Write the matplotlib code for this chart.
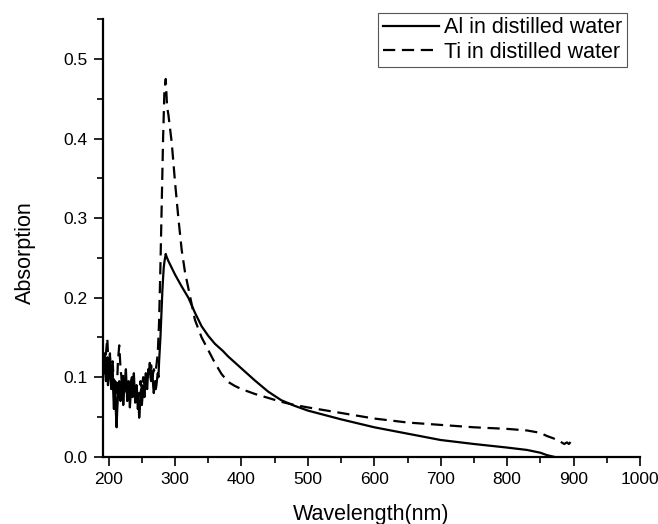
import matplotlib
matplotlib.use('Agg')
import matplotlib.pyplot as plt
from matplotlib.ticker import MultipleLocator

# ── data ────────────────────────────────────────────────────────
# Al: noisy UV part sampled every 1 nm, smooth tail after the peak
al_wl = list(range(192, 289)) + [290, 300, 310, 320, 330, 340, 350, 360, 372,
                                 380, 400, 420, 440, 460, 480, 500, 550, 600,
                                 650, 700, 750, 800, 830, 850, 860, 870]
al_abs = [0.110, 0.125, 0.130, 0.105, 0.095, 0.115, 0.125, 0.090, 0.100, 0.120,
          0.130, 0.100, 0.085, 0.110, 0.115, 0.080, 0.060, 0.095, 0.090, 0.055,
          0.037, 0.060, 0.075, 0.090, 0.095, 0.080, 0.070, 0.085, 0.100, 0.090,
          0.065, 0.080, 0.085, 0.100, 0.110, 0.090, 0.070, 0.085, 0.095, 0.080,
          0.062, 0.075, 0.090, 0.100, 0.075, 0.090, 0.105, 0.085, 0.068, 0.080,
          0.088, 0.075, 0.060, 0.070, 0.049, 0.060, 0.080, 0.085, 0.065, 0.075,
          0.090, 0.082, 0.075, 0.090, 0.100, 0.092, 0.085, 0.100, 0.110, 0.105,
          0.118, 0.100, 0.095, 0.108, 0.105, 0.090, 0.080, 0.088, 0.095, 0.085,
          0.090, 0.098, 0.105, 0.100, 0.120, 0.135, 0.150, 0.170, 0.190, 0.210,
          0.225, 0.238, 0.245, 0.250, 0.255, 0.252, 0.250,
          0.246, 0.229, 0.214, 0.200, 0.181, 0.164, 0.152, 0.142, 0.133, 0.126,
          0.111, 0.096, 0.082, 0.071, 0.064, 0.058, 0.047, 0.037, 0.029, 0.021,
          0.016, 0.0115, 0.0085, 0.005, 0.002, 0.0]

ti_wl = [192, 194, 196, 198, 200, 202, 204, 206, 208, 210, 212, 214, 216, 218,
         220, 222, 224, 226, 228, 230, 232, 234, 236, 238, 240, 242, 244, 246,
         248, 250, 252, 254, 256, 258, 260, 262, 264, 266, 268, 270, 272, 274,
         276, 278, 280, 282, 284, 286, 288, 290, 295, 300, 305, 310, 315, 320,
         325, 330, 340, 350, 360, 370, 380, 390, 400, 420, 440, 460, 480, 500,
         550, 600, 650, 700, 750, 800, 830, 850, 860, 870, 880, 886, 890, 893,
         897, 900]
ti_abs = [0.120, 0.100, 0.130, 0.149, 0.110, 0.125, 0.100, 0.120, 0.090, 0.100,
          0.075, 0.120, 0.140, 0.110, 0.095, 0.105, 0.080, 0.100, 0.085, 0.095,
          0.075, 0.100, 0.085, 0.095, 0.075, 0.090, 0.070, 0.080, 0.095, 0.085,
          0.100, 0.090, 0.105, 0.095, 0.110, 0.100, 0.115, 0.100, 0.110, 0.105,
          0.115, 0.130, 0.170, 0.240, 0.320, 0.400, 0.460, 0.475, 0.440, 0.430,
          0.395, 0.345, 0.300, 0.260, 0.232, 0.212, 0.192, 0.172, 0.150, 0.134,
          0.118, 0.104, 0.094, 0.089, 0.085, 0.079, 0.074, 0.069, 0.065, 0.062,
          0.055, 0.048, 0.043, 0.040, 0.037, 0.035, 0.033, 0.030, 0.026, 0.023,
          0.019, 0.016, 0.018, 0.016, 0.020, 0.020]

# ── figure ─────────────────────────────────────────────────────
plt.rcParams['font.family'] = ['Liberation Sans', 'DejaVu Sans']

fig = plt.figure(figsize=(6.58, 5.24), dpi=100)
ax = fig.add_axes([0.156, 0.1284, 0.8166, 0.8348])

ax.plot(al_wl, al_abs, color='black', lw=1.6, label='Al in distilled water')
ax.plot(ti_wl, ti_abs, color='black', lw=1.6, dashes=(5.5, 3),
        label='Ti in distilled water')

ax.set_xlim(191, 1000)
ax.set_ylim(0, 0.55)
ax.xaxis.set_major_locator(MultipleLocator(100))
ax.xaxis.set_minor_locator(MultipleLocator(50))
ax.yaxis.set_major_locator(MultipleLocator(0.1))
ax.yaxis.set_minor_locator(MultipleLocator(0.05))

for side in ('top', 'right'):
    ax.spines[side].set_visible(False)
for side in ('left', 'bottom'):
    ax.spines[side].set_linewidth(1.6)

ax.tick_params(which='major', direction='out', length=6.5, width=1.2,
               labelsize=12.5, pad=4.5)
ax.tick_params(which='minor', direction='out', length=4, width=1.2)

ax.set_xlabel('Wavelength(nm)', fontsize=15.5)
ax.set_ylabel('Absorption', fontsize=15.5)
ax.xaxis.set_label_coords(0.5, -0.107)
ax.yaxis.set_label_coords(-0.124, 0.467)

leg = ax.legend(loc='upper right', bbox_to_anchor=(0.975, 1.014),
                borderaxespad=0, fontsize=15.5, handlelength=2.6,
                handletextpad=0.25, borderpad=0.2, labelspacing=0.15,
                fancybox=False, framealpha=1)
leg.get_frame().set_edgecolor('#555555')
leg.get_frame().set_linewidth(0.8)

fig.savefig('out.png', dpi=100)
